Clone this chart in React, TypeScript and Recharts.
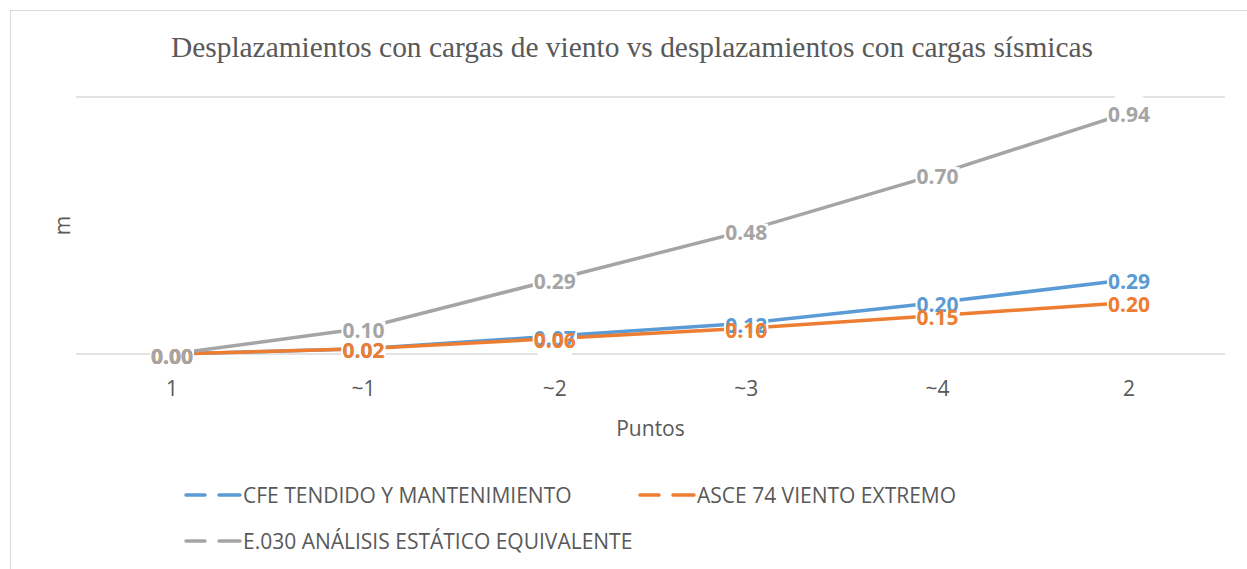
import React from 'react';
import { LineChart, Line, XAxis, YAxis, CartesianGrid, Legend, LabelList } from 'recharts';

const categories = ['1', '~1', '~2', '~3', '~4', '2'];
const cfeValues = [0.0, 0.02, 0.07, 0.12, 0.2, 0.29];
const asceValues = [0.0, 0.02, 0.06, 0.1, 0.15, 0.2];
const e030Values = [0.0, 0.1, 0.29, 0.48, 0.7, 0.94];
const yTicks = [0, 0.2, 0.4, 0.6, 0.8, 1.0];
const seriesKeys = ['cfe', 'asce', 'e030'];
const seriesNames = ['CFE TENDIDO Y MANTENIMIENTO', 'ASCE 74 VIENTO EXTREMO', 'E.030 ANÁLISIS ESTÁTICO EQUIVALENTE'];
const seriesColors = ['#5B9BD5', '#ED7D31', '#A5A5A5'];
const titleText = 'Desplazamientos con cargas de viento vs desplazamientos con cargas sísmicas';
const xTitle = 'Puntos';
const yTitle = 'm';

const data = categories.map((c, i) => ({ cat: c, cfe: cfeValues[i], asce: asceValues[i], e030: e030Values[i] }));

const SANS = "'Open Sans', 'Noto Sans', sans-serif";
const TEXT_COLOR = '#595959';
const GRID_COLOR = '#D9D9D9';

const blobDot = (props: any) => {
  const { cx, cy, index } = props;
  if (cx == null || cy == null) return <g key={`b-${index}`} />;
  return <rect key={`b-${index}`} x={cx - 18} y={cy - 19} width={36} height={42} rx={12} fill="#fff" />;
};

const labelBg = (props: any) => {
  const { x, y, index } = props;
  return <rect key={`lb-${index}`} x={x - 22} y={y - 7} width={44} height={18} fill="#fff" />;
};

const makeLabel = (color: string) => (props: any) => {
  const { x, y, value, index } = props;
  const txt = Number(value).toFixed(2);
  return (
    <text key={`l-${index}`} x={x} y={y + 9.5} textAnchor="middle" fill={color} fontFamily={SANS} fontWeight={700} fontSize={21}>
      {txt}
    </text>
  );
};

const renderLegend = (props: any) => {
  const payload = (props.payload || [])
    .filter((p: any) => seriesNames.indexOf(p.value) >= 0)
    .sort((a: any, b: any) => seriesNames.indexOf(a.value) - seriesNames.indexOf(b.value));
  const lefts = [183, 637, 183];
  const tops = [0, 0, 46];
  return (
    <div style={{ position: 'relative', width: 1247, height: 80 }}>
      {payload.map((p: any, i: number) => (
        <div
          key={p.value}
          style={{ position: 'absolute', left: lefts[i], top: tops[i], height: 30, display: 'flex', alignItems: 'center' }}
        >
          <svg width={60} height={10} style={{ display: 'block' }}>
            <line x1={3} y1={5} x2={22} y2={5} stroke={p.color} strokeWidth={3.5} strokeLinecap="round" />
            <line x1={36} y1={5} x2={57} y2={5} stroke={p.color} strokeWidth={3.5} strokeLinecap="round" />
          </svg>
          <span style={{ fontFamily: SANS, fontSize: 21, color: TEXT_COLOR, whiteSpace: 'nowrap', lineHeight: '30px' }}>
            {p.value}
          </span>
        </div>
      ))}
    </div>
  );
};

export default function App() {
  return (
    <div style={{ position: 'absolute', left: 0, top: 0, width: 1247, height: 569, overflow: 'hidden', background: '#fff' }}>
      <div
        style={{
          position: 'absolute',
          left: 10,
          top: 10,
          width: 1400,
          height: 800,
          border: `1.5px solid ${GRID_COLOR}`,
          boxSizing: 'border-box',
        }}
      />
      <svg width={1247} height={80} style={{ position: 'absolute', left: 0, top: 0 }}>
        <text x={632} y={57} textAnchor="middle" fill={TEXT_COLOR} fontFamily="'Liberation Serif', 'Times New Roman', serif" fontSize={29.4}>
          {titleText}
        </text>
      </svg>
      <div style={{ position: 'absolute', left: 0, top: 0 }}>
        <LineChart width={1247} height={569} data={data} margin={{ top: 97, right: 22, bottom: 125, left: 16 }}>
          <CartesianGrid vertical={false} stroke={GRID_COLOR} strokeWidth={1.5} />
          <XAxis
            dataKey="cat"
            axisLine={false}
            tickLine={false}
            tickSize={0}
            tickMargin={27}
            height={90}
            padding={{ left: 96, right: 96 }}
            tick={{ fill: TEXT_COLOR, fontFamily: SANS, fontSize: 21 }}
            label={{
              content: (lp: any) => {
                const vb = lp.viewBox || {};
                return (
                  <text x={vb.x + vb.width / 2} y={436} textAnchor="middle" fill={TEXT_COLOR} fontFamily={SANS} fontSize={21}>
                    {xTitle}
                  </text>
                );
              },
            }}
          />
          <YAxis
            domain={[0, 1]}
            ticks={yTicks}
            tick={false}
            axisLine={false}
            tickLine={false}
            width={60}
            label={{
              content: (lp: any) => {
                const vb = lp.viewBox || {};
                const cx = 62;
                const cy = vb.y + vb.height / 2;
                return (
                  <text x={cx} y={cy} textAnchor="middle" dominantBaseline="central" transform={`rotate(-90 ${cx} ${cy})`} fill={TEXT_COLOR} fontFamily={SANS} fontSize={21}>
                    {yTitle}
                  </text>
                );
              },
            }}
          />
          {seriesKeys.map((k) => (
            <Line key={`blob-${k}`} dataKey={k} stroke="none" dot={blobDot} activeDot={false} legendType="none" isAnimationActive={false}>
              <LabelList dataKey={k} content={labelBg} />
            </Line>
          ))}
          {seriesKeys.map((k, i) => (
            <Line
              key={k}
              dataKey={k}
              name={seriesNames[i]}
              stroke={seriesColors[i]}
              strokeWidth={3.5}
              strokeLinecap="round"
              dot={false}
              activeDot={false}
              isAnimationActive={false}
            >
              <LabelList dataKey={k} content={makeLabel(seriesColors[i])} />
            </Line>
          ))}
          <Legend
            layout="horizontal"
            verticalAlign="middle"
            align="center"
            content={renderLegend}
            wrapperStyle={{ position: 'absolute', left: 0, top: 480, width: 1247, height: 80 }}
          />
        </LineChart>
      </div>
    </div>
  );
}
